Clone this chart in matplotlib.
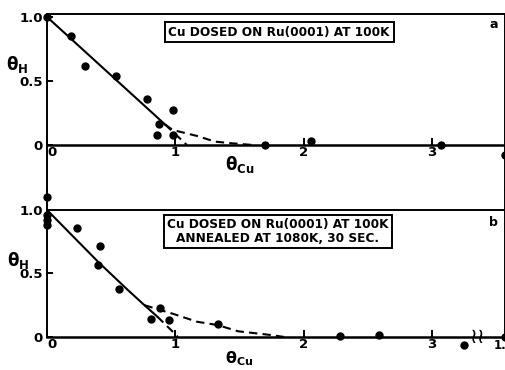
import matplotlib
matplotlib.use("Agg")
import matplotlib.pyplot as plt

plt.rcParams['font.family'] = ['DejaVu Sans']
plt.rcParams['font.weight'] = 'bold'
plt.rcParams['mathtext.fontset'] = 'dejavusans'

# ---------------- data ----------------
# panel a: Cu dosed on Ru(0001) at 100K
theta_cu_a = [0.0, 0.19, 0.30, 0.54, 0.78, 0.87, 0.86, 0.98, 0.98, 1.70, 2.06, 3.07, 3.57]
theta_h_a = [1.0, 0.85, 0.62, 0.54, 0.36, 0.16, 0.08, 0.27, 0.08, 0.0, 0.03, 0.0, -0.08]

fit_solid_x_a = [0.0, 0.92]
fit_solid_y_a = [1.0, 0.16]
fit_steep_x_a = [0.92, 1.09]
fit_steep_y_a = [0.16, 0.0]
fit_tail_x_a = [0.92, 0.98, 1.17, 1.31, 1.44, 1.60]
fit_tail_y_a = [0.16, 0.117, 0.07, 0.026, 0.013, 0.0]

# panel b: Cu dosed on Ru(0001) at 100K, annealed at 1080K, 30 sec
theta_cu_b = [0.0, 0.0, 0.0, 0.0, 0.23, 0.41, 0.40, 0.56, 0.81, 0.88, 0.95, 1.33, 2.28, 2.59, 3.25, 3.57]
theta_h_b = [1.10, 0.96, 0.92, 0.88, 0.86, 0.72, 0.57, 0.38, 0.14, 0.23, 0.13, 0.10, 0.01, 0.015, -0.06, 0.0]

fit_solid_x_b = [0.0, 0.40, 0.63, 0.76, 0.86]
fit_solid_y_b = [1.0, 0.59, 0.37, 0.25, 0.16]
fit_steep_x_b = [0.86, 0.98, 1.02]
fit_steep_y_b = [0.16, 0.042, 0.0]
fit_tail_x_b = [0.76, 0.99, 1.17, 1.33, 1.49, 1.62, 1.75, 1.85]
fit_tail_y_b = [0.25, 0.18, 0.12, 0.094, 0.045, 0.03, 0.015, 0.0]

x_ticks = [0, 1, 2, 3]
x_tick_labels = ['0', '1', '2', '3']
y_ticks = [0, 0.5, 1.0]
y_tick_labels = ['0', '0.5', '1.0']

title_a = 'Cu DOSED ON Ru(0001) AT 100K'
title_b = 'Cu DOSED ON Ru(0001) AT 100K\nANNEALED AT 1080K, 30 SEC.'

# ---------------- figure ----------------
W, H = 506, 370
fig = plt.figure(figsize=(W / 100, H / 100), dpi=100)

def frac(l, t, r, b):
    return [l / W, 1 - b / H, (r - l) / W, (b - t) / H]

ax_a = fig.add_axes(frac(47, 14, 505, 190))
ax_b = fig.add_axes(frac(47, 190, 505, 337))

XMAX = 3.57
ax_a.set_xlim(0, XMAX)
ax_a.set_ylim(-0.352, 1.023)
ax_b.set_xlim(0, XMAX)
ax_b.set_ylim(0, 1.157)

lw_sp = 1.4
for ax in (ax_a, ax_b):
    for s in ax.spines.values():
        s.set_linewidth(lw_sp)
    ax.set_xticks(x_ticks)
    ax.set_xticklabels(x_tick_labels)
    ax.set_yticks(y_ticks)
    ax.set_yticklabels(y_tick_labels)
    ax.tick_params(axis='x', direction='in', length=5, width=1.4, pad=1,
                   labelsize=9.5, top=False)
    ax.tick_params(axis='y', direction='in', length=4, width=1.4, pad=3,
                   labelsize=9.5, right=False)
    ax.patch.set_alpha(0)

ax_a.spines['bottom'].set_position(('data', 0))
ax_a.spines['bottom'].set_linewidth(1.8)
ax_b.spines['top'].set_visible(False)
ax_b.spines['bottom'].set_linewidth(1.8)
ax_b.axhline(1.0, color='black', lw=lw_sp)

for ax in (ax_a, ax_b):
    lbls = ax.get_xticklabels()
    lbls[0].set_ha('left')

mk = dict(marker='o', ms=5, color='black', ls='none', clip_on=False, zorder=5)
dash = dict(color='black', lw=1.5, dashes=(4, 2.5))

# panel a
ax_a.plot(fit_solid_x_a, fit_solid_y_a, color='black', lw=1.5)
ax_a.plot(fit_steep_x_a, fit_steep_y_a, **dash)
ax_a.plot(fit_tail_x_a, fit_tail_y_a, **dash)
ax_a.plot(theta_cu_a, theta_h_a, **mk)

# panel b
ax_b.plot(fit_solid_x_b, fit_solid_y_b, color='black', lw=1.5)
ax_b.plot(fit_steep_x_b, fit_steep_y_b, **dash)
ax_b.plot(fit_tail_x_b, fit_tail_y_b, **dash)
ax_b.plot(theta_cu_b, theta_h_b, **mk)

box = dict(boxstyle='square,pad=0.3', fc='white', ec='black', lw=1.4)
ax_a.text(1.81, 0.88, title_a, ha='center', va='center', fontsize=8.7,
          fontweight='bold', bbox=box)
ax_b.text(1.80, 0.83, title_b, ha='center', va='center', fontsize=8.7,
          fontweight='bold', bbox=box, linespacing=1.05)

ax_a.text(3.48, 0.94, 'a', ha='center', va='center', fontsize=9, fontweight='bold')
ax_b.text(3.48, 0.905, 'b', ha='center', va='center', fontsize=9, fontweight='bold')

ylab = r'$\mathbf{\theta_{H}}$'
xlab = r'$\mathbf{\theta_{Cu}}$'
ax_a.text(-0.234, 0.63, ylab, ha='center', va='center', fontsize=12, clip_on=False)
ax_b.text(-0.226, 0.606, ylab, ha='center', va='center', fontsize=12, clip_on=False)
ax_a.text(1.50, -0.156, xlab, ha='center', va='center', fontsize=12, clip_on=False)
ax_b.text(1.50, -0.17, xlab, ha='center', va='center', fontsize=11.5, clip_on=False)

# axis break mark and label at the right end of panel b
ax_b.text(3.36, 0.0, '\u2240\u2240', ha='center', va='center', fontsize=15,
          fontweight='normal', clip_on=False)
ax_b.text(3.585, -0.065, '1.', ha='right', va='center', fontsize=8.5,
          fontweight='bold', clip_on=False)

fig.savefig('out.png', dpi=100)
